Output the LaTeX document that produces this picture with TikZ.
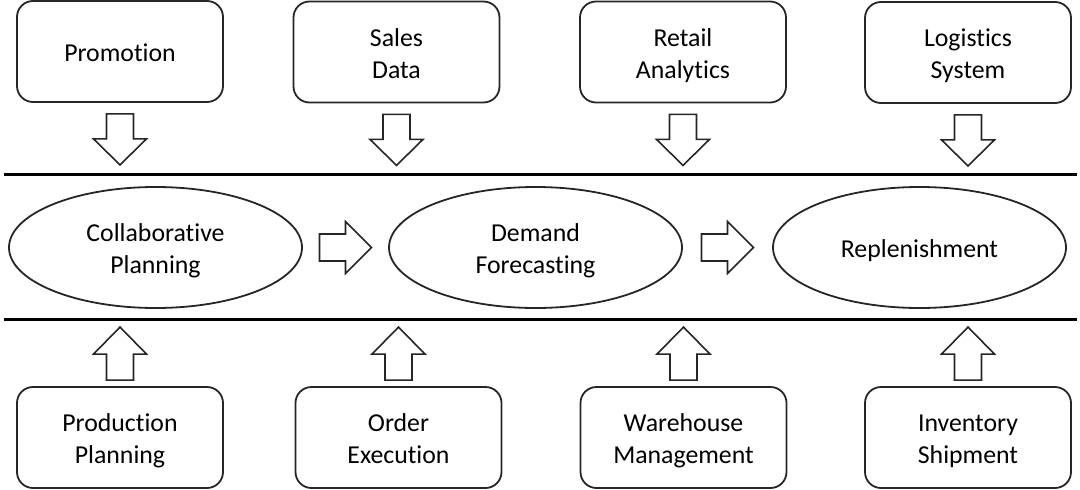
\documentclass[tikz,border=0pt]{standalone}
\usepackage{fontspec}
\setmainfont{Carlito}[Ligatures={NoCommon}]
\usetikzlibrary{calc,shapes.geometric}
\newcommand\lnstrut{\rule[-6pt]{0pt}{32pt}}
\newcommand\twolines[2]{\lnstrut#1\\\lnstrut#2}
\begin{document}
\begin{tikzpicture}[x=1pt,y=-1pt,
  box/.style={draw=black!85, line width=1.8pt, rounded corners=16pt,
    minimum width=206pt, minimum height=101pt, align=center, inner sep=0pt,
    font=\fontsize{25.8}{32}\selectfont, text=black},
  oval/.style={draw=black!85, line width=1.8pt, ellipse,
    minimum width=293pt, minimum height=121pt, inner sep=0pt, align=center,
    font=\fontsize{25.8}{32}\selectfont, text=black},
  blockarrow/.style={draw=black!85, line width=1.6pt, fill=white, line join=miter},
  rule/.style={line width=3pt, black},
  pics/downarr/.style={code={\draw[blockarrow] (-13.5,0) -- (13.5,0) -- (13.5,25) -- (26.5,25) -- (0,51) -- (-26.5,25) -- (-13.5,25) -- cycle;}},
  pics/uparr/.style={code={\draw[blockarrow] (0,0) -- (26.5,27) -- (13.5,27) -- (13.5,53) -- (-13.5,53) -- (-13.5,27) -- (-26.5,27) -- cycle;}},
  pics/rightarr/.style={code={\draw[blockarrow] (-26,-13.5) -- (0,-13.5) -- (0,-26) -- (26,0) -- (0,26) -- (0,13.5) -- (-26,13.5) -- cycle;}}
]
\useasboundingbox (0,0) rectangle (1080,490);

% top boxes
\node[box] (t1) at (120,51.5) {\lnstrut Promotion};
\node[box] (t2) at (396.5,52) {\twolines{Sales}{Data}};
\node[box] (t3) at (683,52) {\twolines{Retail}{Analytics}};
\node[box] (t4) at (968,52.5) {\twolines{Logistics}{System}};

% bottom boxes
\node[box] (b1) at (120,437.5) {\twolines{Production}{Planning}};
\node[box] (b2) at (398.5,437.5) {\twolines{Order}{Execution}};
\node[box] (b3) at (683.5,437.5) {\twolines{Warehouse}{Management}};
\node[box] (b4) at (968,437.5) {\twolines{Inventory}{Shipment}};

% ellipses
\node[oval] (e1) at (155.5,247.5) {\twolines{Collaborative}{Planning}};
\node[oval] (e2) at (535.5,247.5) {\twolines{Demand}{Forecasting}};
\node[oval] (e3) at (919.5,247.5) {\lnstrut Replenishment};

% horizontal rules
\coordinate (r1a) at (4,174);
\coordinate (r1b) at (1077,174);
\coordinate (r2a) at (4,319);
\coordinate (r2b) at (1077,319);
\draw[rule] (r1a) -- (r1b);
\draw[rule] (r2a) -- (r2b);

% down arrows
\foreach \n in {t1,t2,t3,t4}{
  \pic at ($(\n.south)+(0,11)$) {downarr};
}
% up arrows
\foreach \n in {b1,b2,b3,b4}{
  \pic at ($(\n.north)+(0,-59)$) {uparr};
}
% right arrows
\pic at ($(e1.east)!0.5!(e2.west)$) {rightarr};
\pic at ($(e2.east)!0.5!(e3.west)$) {rightarr};
\end{tikzpicture}
\end{document}
